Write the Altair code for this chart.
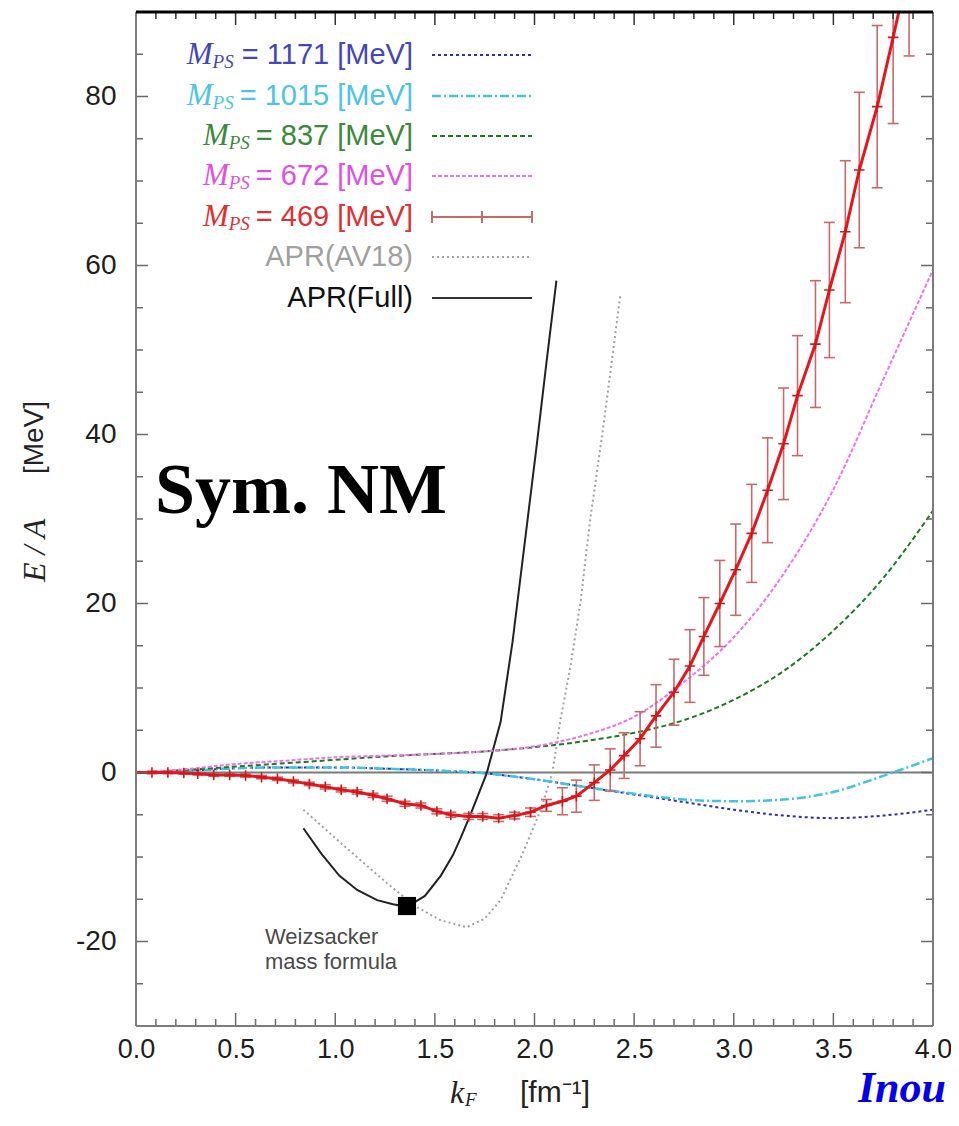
import altair as alt
import pandas as pd

# ---------------- data ----------------
# M_PS = 469 MeV lattice result with error bars
k_red = [0.00, 0.08, 0.16, 0.24, 0.31, 0.39, 0.47, 0.55, 0.63, 0.71,
         0.79, 0.87, 0.95, 1.03, 1.11, 1.19, 1.26, 1.35, 1.43, 1.51,
         1.58, 1.67, 1.74, 1.82, 1.90, 1.98, 2.06, 2.14, 2.21, 2.30,
         2.38, 2.45, 2.53, 2.61, 2.70, 2.78, 2.85, 2.93, 3.01, 3.09,
         3.17, 3.25, 3.32, 3.41, 3.48, 3.56, 3.63, 3.72, 3.80, 3.88]
E_red = [0.0, 0.0, 0.0, -0.05, -0.15, -0.3, -0.3, -0.35, -0.55, -0.75,
         -1.05, -1.35, -1.7, -2.05, -2.3, -2.7, -3.1, -3.7, -3.9, -4.6,
         -5.0, -5.2, -5.2, -5.4, -5.1, -4.7, -3.9, -3.4, -2.8, -1.2,
         0.3, 2.0, 4.0, 6.7, 9.5, 12.6, 16.1, 20.0, 24.0, 28.3,
         33.4, 38.9, 44.6, 50.7, 57.1, 64.0, 71.3, 78.8, 87.0, 95.5]
err_red = [0.1, 0.15, 0.15, 0.15, 0.15, 0.15, 0.15, 0.2, 0.2, 0.2,
           0.2, 0.2, 0.25, 0.25, 0.25, 0.25, 0.3, 0.3, 0.3, 0.3,
           0.3, 0.35, 0.35, 0.4, 0.4, 0.5, 0.7, 1.6, 1.9, 2.1,
           2.5, 2.7, 3.2, 3.7, 3.9, 4.3, 4.6, 5.1, 5.4, 5.8,
           6.2, 6.6, 7.1, 7.5, 8.0, 8.4, 9.2, 9.6, 10.2, 10.7]

# heavier quark masses (smooth curves)
k_model = [0.0, 0.25, 0.5, 0.75, 1.0, 1.25, 1.5, 1.75, 2.0, 2.25, 2.5, 2.75, 3.0, 3.25, 3.5, 3.75, 4.0]
E_1171 = [0.0, 0.2, 0.5, 0.6, 0.6, 0.45, 0.25, -0.1, -0.8, -1.7, -2.6, -3.5, -4.4, -5.1, -5.4, -5.1, -4.4]
E_1015 = [0.0, 0.2, 0.5, 0.6, 0.6, 0.45, 0.25, -0.1, -0.8, -1.7, -2.5, -3.2, -3.4, -3.2, -2.3, -0.4, 1.7]
E_837 = [0.0, 0.3, 0.7, 1.1, 1.5, 1.9, 2.2, 2.5, 3.0, 3.7, 4.7, 6.2, 8.6, 12.0, 16.8, 23.0, 31.0]
E_672 = [0.0, 0.4, 1.0, 1.4, 1.8, 2.0, 2.2, 2.5, 3.1, 4.4, 6.6, 10.7, 16.0, 23.5, 33.5, 46.5, 59.5]

# APR variational results
k_full = [0.84, 0.93, 1.02, 1.11, 1.21, 1.29, 1.36, 1.45, 1.53, 1.59, 1.63, 1.68, 1.76, 1.83, 1.89, 1.95, 2.01, 2.06, 2.11]
E_full = [-6.6, -9.6, -12.2, -13.9, -15.1, -15.6, -15.9, -14.6, -12.2, -9.8, -7.7, -4.9, -0.1, 6.0, 15.5, 27.0, 38.5, 48.5, 58.2]
k_av18 = [0.84, 1.05, 1.26, 1.40, 1.53, 1.66, 1.75, 1.83, 1.94, 2.03, 2.09, 2.13, 2.18, 2.23, 2.28, 2.34, 2.39, 2.43]
E_av18 = [-4.4, -8.8, -13.1, -15.8, -17.5, -18.3, -17.3, -15.1, -9.6, -4.5, 0.0, 6.2, 12.5, 20.0, 30.0, 40.0, 49.0, 56.4]

# Weizsacker mass formula point
k_weiz = [1.36]
E_weiz = [-15.8]

# axis tick labels
x_labels = [0.0, 0.5, 1.0, 1.5, 2.0, 2.5, 3.0, 3.5, 4.0]
y_labels = [-20, 0, 20, 40, 60, 80]
x_minor = [round(0.1 * i, 1) for i in range(1, 40) if i % 5]
y_minor = [v for v in range(-25, 90, 5) if v % 20]

legend_nums = ["1171", "1015", "837", "672", "469"]
legend_text_colors = ["#4646b8", "#4cc4e6", "#3a8a3a", "#e050e0", "#e03030"]

# ---------------- styling / layout ----------------
W, H = 797, 1014
SANS = "Liberation Sans"
SERIF = "Liberation Serif"
FRAME = "#7c7c7c"
TICK = "#6a6a6a"

xs = alt.Scale(domain=[0, 4], nice=False, zero=False)
ys = alt.Scale(domain=[-30, 90], nice=False, zero=False)
xaxis = alt.Axis(values=x_labels, labelExpr="format(datum.value, '.1f')", grid=False, ticks=False,
                 domain=False, labelFont=SANS, labelFontSize=27, labelColor="#1e1e1e",
                 labelPadding=10, labelFlush=False, labelOverlap=False, title="")
yaxis = alt.Axis(values=y_labels, labelExpr="'' + datum.value", grid=False, ticks=False,
                 domain=False, labelFont=SANS, labelFontSize=28, labelColor="#1e1e1e",
                 labelPadding=20, labelFlush=False, labelOverlap=False, title="")


def X(f):
    return alt.X(f"{f}:Q", scale=xs, axis=xaxis)


def Y(f):
    return alt.Y(f"{f}:Q", scale=ys, axis=yaxis)


one = pd.DataFrame({"a": [0]})
layers = []

# zero line
layers.append(alt.Chart(pd.DataFrame({"E": [0]})).mark_rule(color="#7a7a7a", strokeWidth=2)
              .encode(y=Y("E")))


def curve(k, E, color, width=2.0, dash=None, interp="monotone"):
    df = pd.DataFrame({"k": k, "E": E})
    kw = dict(color=color, strokeWidth=width, clip=True, interpolate=interp)
    if dash:
        kw["strokeDash"] = dash
    return alt.Chart(df).mark_line(**kw).encode(x=X("k"), y=Y("E"))


styles = {
    "1171": dict(color="#2e2eb0", width=2.0, dash=[3, 3]),
    "1015": dict(color="#40c4e4", width=2.5, dash=[9, 3, 2, 3]),
    "837": dict(color="#1f7a1f", width=2.0, dash=[5, 3]),
    "672": dict(color="#f070f0", width=2.0, dash=[4, 2]),
    "av18": dict(color="#a0a0a0", width=2.0, dash=[2, 3]),
    "full": dict(color="#222222", width=2.0),
}

layers.append(curve(k_av18, E_av18, interp="linear", **styles["av18"]))
layers.append(curve(k_full, E_full, interp="linear", **styles["full"]))
layers.append(curve(k_model, E_1171, **styles["1171"]))
layers.append(curve(k_model, E_1015, **styles["1015"]))
layers.append(curve(k_model, E_837, **styles["837"]))
layers.append(curve(k_model, E_672, **styles["672"]))

# red data with error bars
df_red = pd.DataFrame({"k": k_red, "E": E_red,
                       "lo": [e - d for e, d in zip(E_red, err_red)],
                       "hi": [e + d for e, d in zip(E_red, err_red)]})
ERR = "#c86a6a"
RED = "#e8141e"
layers.append(alt.Chart(df_red).mark_rule(color=ERR, strokeWidth=1.6, clip=True)
              .encode(x=X("k"), y=Y("lo"), y2="hi:Q"))
for f in ["lo", "hi"]:
    layers.append(alt.Chart(df_red).mark_tick(orient="horizontal", size=11, thickness=1.6,
                                              color=ERR, clip=True, opacity=1)
                  .encode(x=X("k"), y=Y(f)))
layers.append(alt.Chart(df_red).mark_line(color=RED, strokeWidth=3, clip=True)
              .encode(x=X("k"), y=Y("E")))
layers.append(alt.Chart(df_red).mark_point(shape="M-1,0H1M0,-1V1", size=110, filled=False,
                                           color="#d01818", strokeWidth=1.6, opacity=1, clip=True)
              .encode(x=X("k"), y=Y("E")))

# Weizsacker square
layers.append(alt.Chart(pd.DataFrame({"k": k_weiz, "E": E_weiz}))
              .mark_square(size=330, color="black", filled=True, opacity=1)
              .encode(x=X("k"), y=Y("E")))


# inward tick marks on all four sides
def ticks_x(vals, length):
    df = pd.DataFrame({"v": vals})
    a = alt.Chart(df).mark_rule(color=TICK, strokeWidth=1.5).encode(
        x=X("v"), y=alt.value(H), y2=alt.value(H - length))
    b = alt.Chart(df).mark_rule(color="#333333", strokeWidth=1.5).encode(
        x=X("v"), y=alt.value(0), y2=alt.value(length))
    return [a, b]


def ticks_y(vals, length):
    df = pd.DataFrame({"v": vals})
    a = alt.Chart(df).mark_rule(color=TICK, strokeWidth=1.5).encode(
        y=Y("v"), x=alt.value(0), x2=alt.value(length))
    b = alt.Chart(df).mark_rule(color=TICK, strokeWidth=1.5).encode(
        y=Y("v"), x=alt.value(W), x2=alt.value(W - length))
    return [a, b]


layers += ticks_x(x_labels, 13) + ticks_x(x_minor, 7)
layers += ticks_y(y_labels, 12) + ticks_y(y_minor, 7)

# frame
layers.append(alt.Chart(one).mark_rule(color=FRAME, strokeWidth=2).encode(
    x=alt.value(0), x2=alt.value(W), y=alt.value(H)))
layers.append(alt.Chart(one).mark_rule(color=FRAME, strokeWidth=2).encode(
    x=alt.value(0), y=alt.value(0), y2=alt.value(H)))
layers.append(alt.Chart(one).mark_rule(color=FRAME, strokeWidth=2).encode(
    x=alt.value(W), y=alt.value(0), y2=alt.value(H)))
layers.append(alt.Chart(one).mark_rule(color="black", strokeWidth=3).encode(
    x=alt.value(0), x2=alt.value(W), y=alt.value(0)))


def text(t, x, y, font=SANS, size=28, color="black", align="left", baseline="middle",
         style="normal", weight="normal", angle=0):
    return alt.Chart(one).mark_text(text=t, font=font, fontSize=size, color=color, align=align,
                                    baseline=baseline, fontStyle=style, fontWeight=weight,
                                    angle=angle).encode(x=alt.value(x), y=alt.value(y))


# ---------------- legend ----------------
rows_y = [43, 84, 124, 164, 205, 245, 286]
LX0, LX1 = 296, 396
TX = 277
LFS = 29
CW = {"=": 0.584, " ": 0.278, "[": 0.278, "]": 0.278, "M": 0.833, "e": 0.556, "V": 0.667}


def sans_width(s, fs):
    return sum(CW.get(c, 0.556) for c in s) * fs


line_keys = ["1171", "1015", "837", "672"]
for i, num in enumerate(legend_nums):
    yy = rows_y[i]
    col = legend_text_colors[i]
    s = f"= {num} [MeV]"
    layers.append(text(s, TX, yy, size=LFS, color=col, align="right"))
    ps_right = TX - sans_width(s, LFS) - 6
    layers.append(text("PS", ps_right, yy + 7, font=SERIF, size=19, color=col, align="right",
                       style="italic"))
    layers.append(text("M", ps_right - 21, yy, font=SERIF, size=31, color=col, align="right",
                       style="italic"))
    if i < 4:
        st = styles[line_keys[i]]
        kw = dict(color=st["color"], strokeWidth=st["width"])
        if st.get("dash"):
            kw["strokeDash"] = st["dash"]
        layers.append(alt.Chart(one).mark_rule(**kw).encode(
            x=alt.value(LX0), x2=alt.value(LX1), y=alt.value(yy)))
    else:
        layers.append(alt.Chart(one).mark_rule(color=ERR, strokeWidth=2).encode(
            x=alt.value(LX0), x2=alt.value(LX1), y=alt.value(yy)))
        for xx in [LX0, (LX0 + LX1) / 2, LX1]:
            layers.append(alt.Chart(one).mark_rule(color=ERR, strokeWidth=2).encode(
                x=alt.value(xx), y=alt.value(yy - 6), y2=alt.value(yy + 6)))

layers.append(text("APR(AV18)", TX, rows_y[5], size=LFS, color="#a0a0a0", align="right"))
layers.append(alt.Chart(one).mark_rule(color="#a0a0a0", strokeWidth=2, strokeDash=[2, 3]).encode(
    x=alt.value(LX0), x2=alt.value(LX1), y=alt.value(rows_y[5])))
layers.append(text("APR(Full)", TX, rows_y[6], size=LFS, color="#111111", align="right"))
layers.append(alt.Chart(one).mark_rule(color="#333333", strokeWidth=2).encode(
    x=alt.value(LX0), x2=alt.value(LX1), y=alt.value(rows_y[6])))

# ---------------- annotations & axis titles ----------------
layers.append(text("Sym. NM", 19, 501, font=SERIF, size=72, weight="bold", baseline="alphabetic"))
layers.append(text("Weizsacker", 129, 925, size=22, color="#4a4a4a"))
layers.append(text("mass formula", 129, 950, size=22, color="#4a4a4a"))
layers.append(text("Inou", 722, 1090, font=SERIF, size=44, color="#0000ee",
                   style="italic", weight="bold", baseline="alphabetic"))

layers.append(text("E / A", -101, 570, font=SERIF, size=32, color="#222222", style="italic",
                   angle=270))
layers.append(text("[MeV]", -101, 462, size=28, color="#222222", angle=270))
layers.append(text("k", 314, 1081, font=SERIF, size=32, color="#222222", style="italic"))
layers.append(text("F", 329, 1088, font=SERIF, size=19, color="#222222", style="italic"))
layers.append(text("[fm⁻¹]", 384, 1081, size=30, color="#222222"))

chart = alt.layer(*layers).properties(
    width=W, height=H,
    padding={"left": 128, "top": 4, "right": 18, "bottom": 86},
    autosize=alt.AutoSizeParams(type="none"),
    background="white",
).configure_view(strokeWidth=0)

chart.save("out.html", embed_options={"renderer": "svg", "actions": False})
